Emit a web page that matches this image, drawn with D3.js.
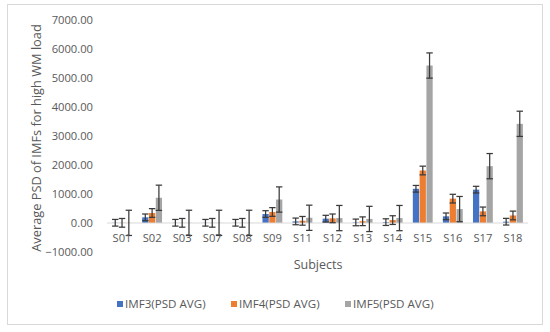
<!DOCTYPE html>
<html><head><meta charset="utf-8">
<script src="https://cdn.jsdelivr.net/npm/d3@7"></script>
<style>body{margin:0;background:#fff;} svg{display:block;}</style>
</head><body>
<svg id="c" width="550" height="332"></svg>
<script>
const categories = ["S01","S02","S03","S07","S08","S09","S11","S12","S13","S14","S15","S16","S17","S18"];
const seriesNames = ["IMF3(PSD AVG)","IMF4(PSD AVG)","IMF5(PSD AVG)"];
const imf3 = [8, 195, 8, 8, 8, 310, 55, 150, 20, 30, 1180, 230, 1150, 45];
const imf4 = [6, 345, 6, 6, 6, 380, 75, 160, 60, 100, 1810, 840, 400, 260];
const imf5 = [5, 870, 5, 5, 5, 810, 180, 170, 140, 170, 5430, 480, 1960, 3420];
const errors = [115, 150, 435];
const yTicks = [-1000, 0, 1000, 2000, 3000, 4000, 5000, 6000, 7000];
const colors = ["#4472C4", "#ED7D31", "#A5A5A5"];

const values = [imf3, imf4, imf5];
const svg = d3.select("#c");
const font = "'Open Sans', 'Segoe UI', sans-serif";
const txt = "#595959";

svg.append("rect").attr("x", 7.5).attr("y", 4.5).attr("width", 535).attr("height", 320)
  .attr("fill", "#fff").attr("stroke", "#d9d9d9").attr("stroke-width", 1);

const x0 = d3.scaleBand().domain(categories).range([107, 528]).paddingInner(0.34).paddingOuter(0.17);
const x1 = d3.scaleBand().domain(seriesNames).range([0, x0.bandwidth()]).paddingInner(0.08);
const y = d3.scaleLinear().domain([-1000, 7000]).range([252, 20]);

// y tick labels
const yAxis = d3.axisLeft(y).tickValues(yTicks).tickFormat(d3.format(".2f")).tickSize(0).tickPadding(0);
const ya = svg.append("g").attr("transform", "translate(93,0)").call(yAxis);
ya.select(".domain").remove();
ya.selectAll("text").attr("font-family", font).attr("font-size", 11.2).attr("fill", txt);

// bars
seriesNames.forEach((s, si) => {
  svg.append("g").selectAll("rect").data(categories).join("rect")
    .attr("x", c => x0(c) + x1(s))
    .attr("width", x1.bandwidth())
    .attr("y", (c, i) => y(Math.max(0, values[si][i])))
    .attr("height", (c, i) => Math.abs(y(values[si][i]) - y(0)))
    .attr("fill", colors[si]);
});

// zero line
svg.append("line").attr("x1", 107).attr("x2", 528).attr("y1", y(0)).attr("y2", y(0))
  .attr("stroke", "#d9d9d9").attr("stroke-width", 1);

// error bars
seriesNames.forEach((s, si) => {
  const g = svg.append("g").attr("stroke", "#3a3a3a").attr("stroke-width", 1.25).attr("fill", "none");
  categories.forEach((c, i) => {
    const cx = x0(c) + x1(s) + x1.bandwidth() / 2;
    const v = values[si][i], e = errors[si];
    const hw = 3.2;
    g.append("line").attr("x1", cx).attr("x2", cx).attr("y1", y(v + e)).attr("y2", y(v - e));
    g.append("line").attr("x1", cx - hw).attr("x2", cx + hw).attr("y1", y(v + e)).attr("y2", y(v + e));
    g.append("line").attr("x1", cx - hw).attr("x2", cx + hw).attr("y1", y(v - e)).attr("y2", y(v - e));
  });
});

// x labels
const xAxis = d3.axisBottom(x0).tickSize(0).tickPadding(0);
const xa = svg.append("g").attr("transform", "translate(0,234)").call(xAxis);
xa.select(".domain").remove();
xa.selectAll("text").attr("font-family", font).attr("font-size", 11.2).attr("fill", txt).attr("dy", "0.71em");

// axis titles
svg.append("text").attr("x", 318).attr("y", 269).attr("text-anchor", "middle")
  .attr("font-family", font).attr("font-size", 12.5).attr("fill", txt).text("Subjects");
svg.append("text").attr("transform", "translate(41,138) rotate(-90)").attr("text-anchor", "middle")
  .attr("font-family", font).attr("font-size", 12.8).attr("fill", txt).text("Average PSD of IMFs for high WM load");

// legend
const legX = [117, 231, 345];
seriesNames.forEach((s, si) => {
  svg.append("rect").attr("x", legX[si]).attr("y", 301).attr("width", 6).attr("height", 6).attr("fill", colors[si]);
  svg.append("text").attr("x", legX[si] + 8).attr("y", 304).attr("dy", "0.35em")
    .attr("font-family", font).attr("font-size", 11.6).attr("fill", txt).text(s);
});
</script>
</body></html>
